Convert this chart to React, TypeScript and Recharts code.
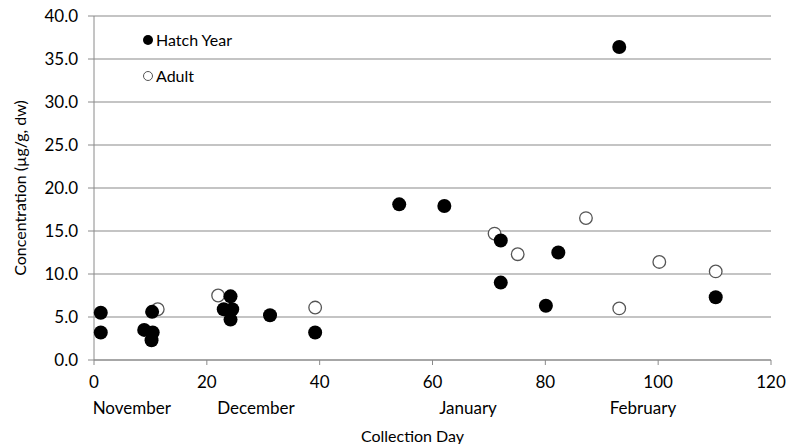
import React from 'react';
import { CartesianGrid, Scatter, ScatterChart, XAxis, YAxis } from 'recharts';

// Hatch year birds
const hatchDays = [1.2, 1.2, 8.9, 10.3, 10.4, 10.2, 23, 24.2, 24.5, 24.2, 31.2, 39.2, 54.1, 62.1, 72.1, 72.1, 80.1, 82.3, 93.1, 110.2];
const hatchConc = [3.2, 5.5, 3.5, 5.6, 3.2, 2.3, 5.9, 7.4, 5.9, 4.7, 5.2, 3.2, 18.1, 17.9, 13.9, 9.0, 6.3, 12.5, 36.4, 7.3];

// Adult birds
const adultDays = [11.3, 22, 39.2, 71, 75.1, 87.2, 93.1, 100.2, 110.2];
const adultConc = [5.9, 7.5, 6.1, 14.7, 12.3, 16.5, 6.0, 11.4, 10.3];

const xTicks = [0, 20, 40, 60, 80, 100, 120];
const yTicks = [0, 5, 10, 15, 20, 25, 30, 35, 40];

const monthNames = ['November', 'December', 'January', 'February'];
const monthPositions = [6.7, 28.7, 66.3, 97.3];

const hatchData = hatchDays.map((day, i) => ({ day, conc: hatchConc[i] }));
const adultData = adultDays.map((day, i) => ({ day, conc: adultConc[i] }));

const TEXT = '#000';
const GRID = '#8a8a8a';

const FilledDot = (props: any) => <circle cx={props.cx} cy={props.cy} r={7} fill='#000' />;
const OpenDot = (props: any) => (
  <circle cx={props.cx} cy={props.cy} r={6.3} fill='#fff' stroke='#555' strokeWidth={1.3} />
);
const NoDot = () => <g />;

const App = () => {
  return (
    <div
      style={{
        position: 'absolute',
        left: 0,
        top: 0,
        width: 786,
        height: 444,
        background: '#fff',
        fontFamily: 'Lato, sans-serif',
      }}
    >
      <ScatterChart width={786} height={444} margin={{ top: 16, right: 15, left: 0, bottom: 24 }}>
        <CartesianGrid vertical={false} stroke={GRID} strokeWidth={1.2} />
        <XAxis
          xAxisId='days'
          type='number'
          dataKey='day'
          domain={[0, 120]}
          ticks={xTicks}
          height={30}
          stroke={GRID}
          tickSize={5}
          tickMargin={11}
          tick={{ fill: TEXT, fontSize: 17 }}
        />
        <XAxis
          xAxisId='months'
          type='number'
          dataKey='day'
          domain={[0, 120]}
          allowDataOverflow
          ticks={monthPositions}
          tickFormatter={(v: number) => monthNames[monthPositions.indexOf(v)]}
          interval={0}
          height={30}
          axisLine={false}
          tickLine={false}
          tickSize={0}
          tickMargin={12}
          tick={{ fill: TEXT, fontSize: 17 }}
          label={{ value: 'Collection Day', position: 'bottom', offset: 11, dx: -20, fill: TEXT, fontSize: 16 }}
        />
        <YAxis
          type='number'
          dataKey='conc'
          domain={[0, 40]}
          ticks={yTicks}
          width={94}
          stroke={GRID}
          tickSize={6}
          tickMargin={10}
          tickFormatter={(v: number) => v.toFixed(1)}
          tick={{ fill: TEXT, fontSize: 17 }}
          label={{
            value: 'Concentration (µg/g, dw)',
            angle: -90,
            position: 'insideLeft',
            offset: 20,
            fill: TEXT,
            fontSize: 16,
            style: { textAnchor: 'middle' },
          }}
        />
        {/* month axis needs a series bound to it before it will render */}
        <Scatter data={hatchData} xAxisId='months' shape={NoDot} legendType='none' isAnimationActive={false} />
        <Scatter name='Adult' data={adultData} xAxisId='days' shape={OpenDot} isAnimationActive={false} />
        <Scatter name='Hatch Year' data={hatchData} xAxisId='days' shape={FilledDot} isAnimationActive={false} />
      </ScatterChart>
      <div style={{ position: 'absolute', left: 142, top: 30, fontSize: 16, color: TEXT, lineHeight: '20px' }}>
        <div style={{ display: 'flex', alignItems: 'center', height: 20 }}>
          <svg width={12} height={12} style={{ marginRight: 2 }}>
            <circle cx={6} cy={6} r={5} fill='#000' />
          </svg>
          Hatch Year
        </div>
        <div style={{ display: 'flex', alignItems: 'center', height: 20, marginTop: 16 }}>
          <svg width={12} height={12} style={{ marginRight: 2 }}>
            <circle cx={6} cy={6} r={4.5} fill='#fff' stroke='#555' strokeWidth={1} />
          </svg>
          Adult
        </div>
      </div>
    </div>
  );
};

export default App;
